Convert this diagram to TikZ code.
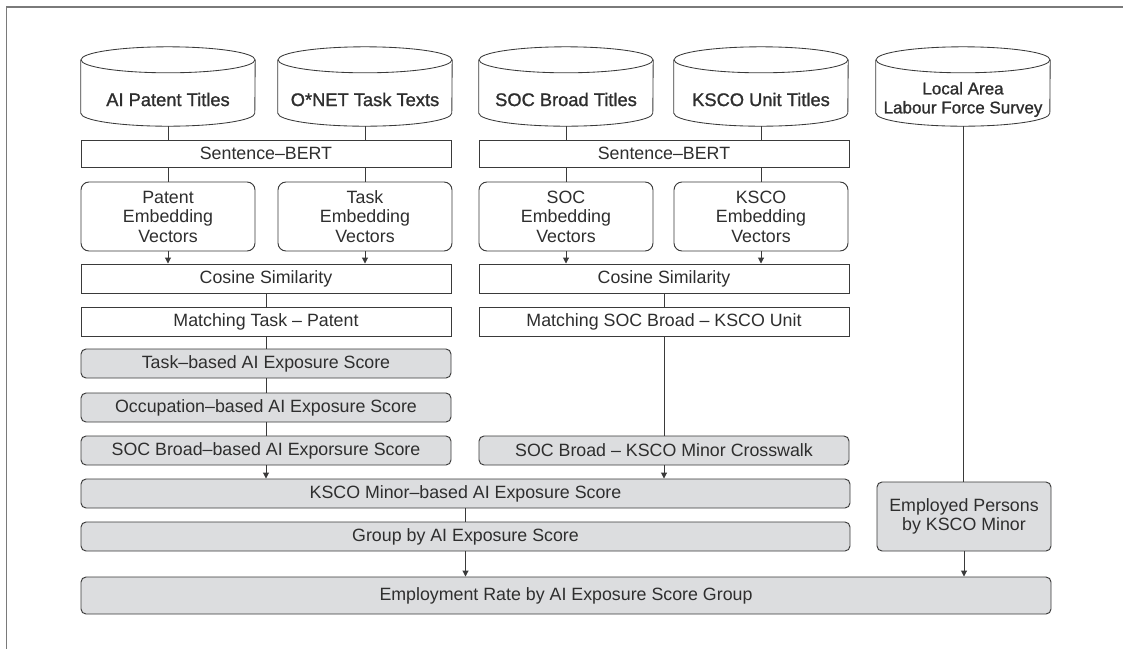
\documentclass[tikz,border=0pt]{standalone}
\usepackage{fontspec}
\setmainfont{Liberation Sans}
\newfontfamily\cylfont[FakeBold=1.2]{Liberation Sans}
\usetikzlibrary{arrows.meta}
\definecolor{ink}{HTML}{2E2E2E}
\definecolor{edge}{HTML}{3A3A3A}
\definecolor{gfill}{HTML}{DCDDDF}
\definecolor{framec}{HTML}{7A7A7A}
\tikzset{
 box/.style={draw=edge, line width=0.95pt, fill=white, inner sep=0pt, text=ink,
   font=\fontsize{17.8}{19.5}\selectfont, align=center},
 gbox/.style={box, fill=gfill, rounded corners=5pt},
 ebox/.style={box, rounded corners=8pt},
 db/.style={inner sep=0pt, minimum width=174, minimum height=53, text=ink,
   font=\cylfont\fontsize{18.3}{19}\selectfont, align=center},
 link/.style={draw=edge, line width=0.95pt},
 arr/.style={link, -{Triangle[length=6pt,width=6pt]}},
 cyl/.style={draw=edge, line width=0.85pt},
}
\newcommand\cylout[1]{%
 \draw[cyl] ([yshift=13pt]#1.north) ellipse [x radius=87pt, y radius=13pt];
 \draw[cyl] ([yshift=13pt]#1.north west) -- ([yshift=13pt]#1.south west)
   arc[start angle=180, end angle=360, x radius=87pt, y radius=13pt]
   -- ([yshift=13pt]#1.north east);
}
\begin{document}
\begin{tikzpicture}[x=1pt,y=-1pt]
\useasboundingbox (0,0) rectangle (1123,649);
\draw[framec, line width=1.2pt] (1123,7) -- (6.5,7) -- (6.5,649);

% data sources
\node[db] (aipt) at (168,99.5) {AI Patent Titles};
\node[db] (onet) at (365,99.5) {O*NET Task Texts};
\node[db] (soct) at (566,99.5) {SOC Broad Titles};
\node[db] (ksct) at (761,99.5) {KSCO Unit Titles};
\node[db, font=\cylfont\fontsize{17}{19}\selectfont] (lfs) at (963,99.5) {Local Area\\Labour Force Survey};
\cylout{aipt}\cylout{onet}\cylout{soct}\cylout{ksct}\cylout{lfs}

% Sentence-BERT
\node[box, minimum width=370, minimum height=27] (sbl) at (266,153.5) {Sentence--BERT};
\node[box, minimum width=370, minimum height=27] (sbr) at (664,153.5) {Sentence--BERT};

% embeddings
\node[ebox, minimum width=174, minimum height=69] (pev) at (168,216.5) {Patent\\Embedding\\Vectors};
\node[ebox, minimum width=174, minimum height=69] (tev) at (365,216.5) {Task\\Embedding\\Vectors};
\node[ebox, minimum width=174, minimum height=69] (sev) at (566,216.5) {SOC\\Embedding\\Vectors};
\node[ebox, minimum width=174, minimum height=69] (kev) at (761,216.5) {KSCO\\Embedding\\Vectors};

% cosine / matching
\node[box, minimum width=370, minimum height=29] (cosl) at (266,278.5) {Cosine Similarity};
\node[box, minimum width=370, minimum height=29] (cosr) at (664,278.5) {Cosine Similarity};
\node[box, minimum width=370, minimum height=29] (matl) at (266,321.5) {Matching Task -- Patent};
\node[box, minimum width=370, minimum height=29] (matr) at (664,321.5) {Matching SOC Broad -- KSCO Unit};

% scores
\node[gbox, minimum width=370, minimum height=29] (tbs) at (266,363.5) {Task--based AI Exposure Score};
\node[gbox, minimum width=370, minimum height=29] (obs) at (266,407.5) {Occupation--based AI Exposure Score};
\node[gbox, minimum width=370, minimum height=29] (sbs) at (266,450.5) {SOC Broad--based AI Exporsure Score};
\node[gbox, minimum width=370, minimum height=29] (cwk) at (664,450.5) {SOC Broad -- KSCO Minor Crosswalk};
\node[gbox, minimum width=769, minimum height=29] (kms) at (465.5,493.5) {KSCO Minor--based AI Exposure Score};
\node[gbox, minimum width=769, minimum height=29] (grp) at (465.5,536.5) {Group by AI Exposure Score};
\node[gbox, minimum width=174, minimum height=69] (emp) at (964,516.5) {Employed Persons\\by KSCO Minor};
\node[gbox, minimum width=970, minimum height=37] (ers) at (566,595.5) {Employment Rate by AI Exposure Score Group};

% connectors
\draw[link] (aipt.south) -- (aipt.south |- sbl.north);
\draw[link] (onet.south) -- (onet.south |- sbl.north);
\draw[link] (soct.south) -- (soct.south |- sbr.north);
\draw[link] (ksct.south) -- (ksct.south |- sbr.north);
\draw[link] (pev.north |- sbl.south) -- (pev.north);
\draw[link] (tev.north |- sbl.south) -- (tev.north);
\draw[link] (sev.north |- sbr.south) -- (sev.north);
\draw[link] (kev.north |- sbr.south) -- (kev.north);
\draw[arr] (pev.south) -- (pev.south |- cosl.north);
\draw[arr] (tev.south) -- (tev.south |- cosl.north);
\draw[arr] (sev.south) -- (sev.south |- cosr.north);
\draw[arr] (kev.south) -- (kev.south |- cosr.north);
\draw[link] (cosl) -- (matl);
\draw[link] (cosr) -- (matr);
\draw[link] (matl) -- (tbs);
\draw[link] (tbs) -- (obs);
\draw[link] (obs) -- (sbs);
\draw[link] (matr) -- (cwk);
\draw[arr] (sbs.south) -- (sbs.south |- kms.north);
\draw[arr] (cwk.south) -- (cwk.south |- kms.north);
\draw[link] (kms) -- (grp);
\draw[arr] (grp.south) -- (grp.south |- ers.north);
\draw[link] (lfs.south) -- (lfs.south |- emp.north);
\draw[arr] (emp.south) -- (emp.south |- ers.north);
\end{tikzpicture}
\end{document}
